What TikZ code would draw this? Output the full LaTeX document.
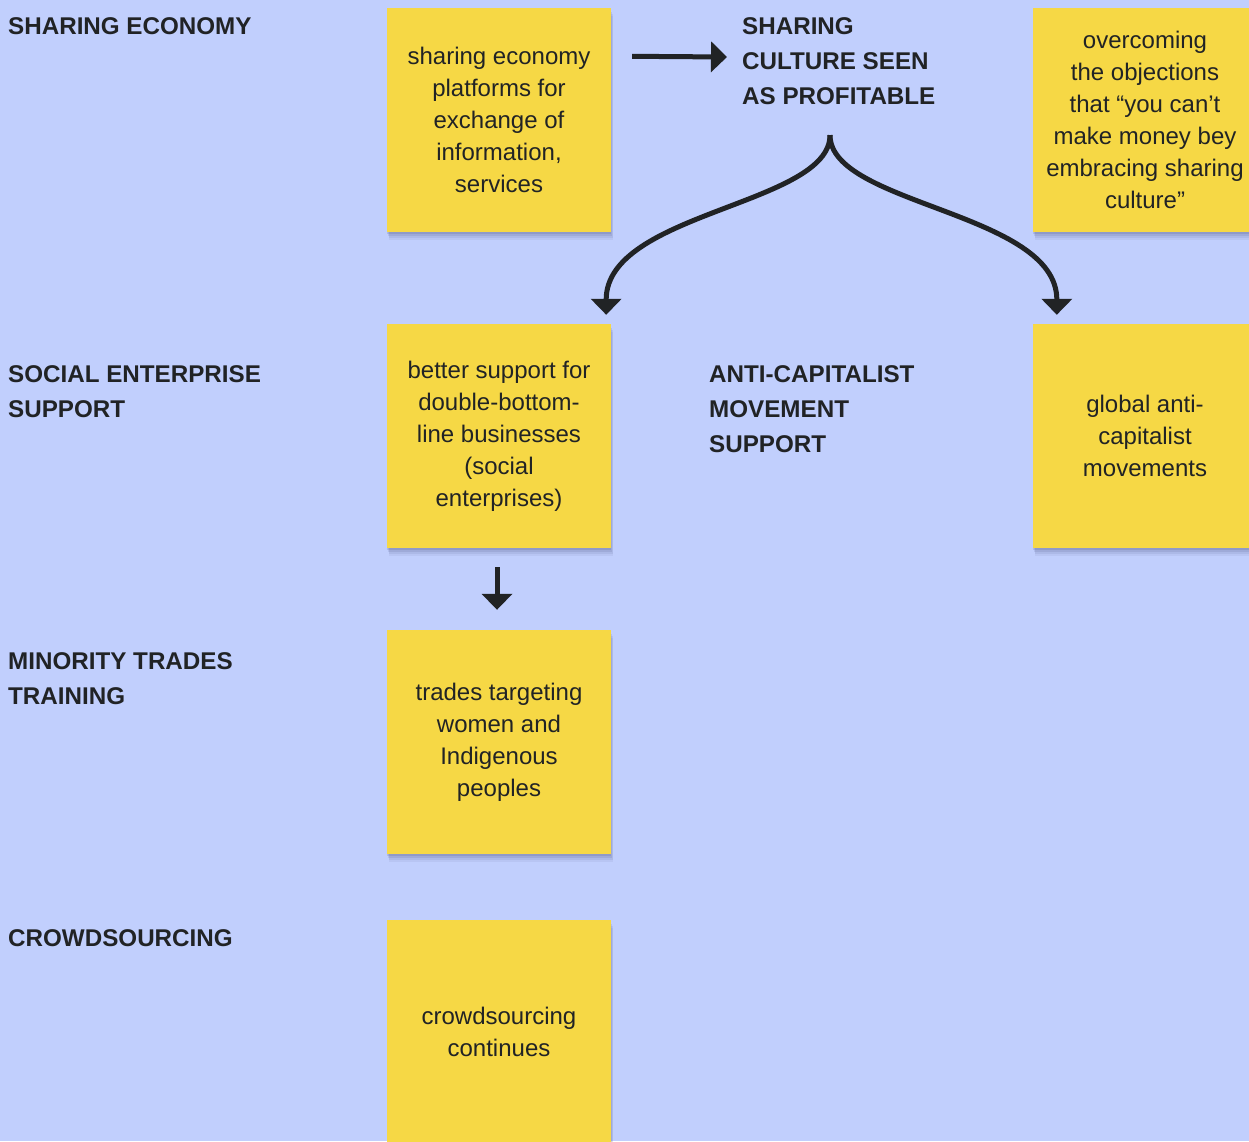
\documentclass[tikz,border=0pt]{standalone}
\usepackage{fontspec}
\setmainfont{Liberation Sans}
\usetikzlibrary{arrows.meta,shadows}
\definecolor{bgblue}{RGB}{193,207,253}
\definecolor{noteyellow}{RGB}{246,216,69}
\definecolor{inkdark}{RGB}{33,35,37}
\definecolor{shadowc}{RGB}{40,45,90}
\tikzset{
  note/.style={rectangle, fill=noteyellow, minimum width=224pt, minimum height=224pt,
    inner sep=0pt, align=center, text=inkdark, font=\fontsize{24}{32}\selectfont,
    drop shadow={shadow xshift=2pt, shadow yshift=-8pt, opacity=0.06, fill=shadowc},
    drop shadow={shadow xshift=1.5pt, shadow yshift=-6pt, opacity=0.08, fill=shadowc},
    drop shadow={shadow xshift=1pt, shadow yshift=-4pt, opacity=0.1, fill=shadowc},
    drop shadow={shadow xshift=0pt, shadow yshift=-2pt, opacity=0.12, fill=shadowc}},
  heading/.style={anchor=north west, inner sep=0pt, align=left, text=inkdark,
    font=\fontsize{24.2}{35}\selectfont\bfseries},
  conn/.style={draw=inkdark, line width=5pt,
    -{Triangle[width=30pt,length=16pt]}}
}
\begin{document}
\begin{tikzpicture}[x=1pt,y=1pt]
\clip (0,0) rectangle (1249,-1141);
\fill[bgblue] (0,0) rectangle (1249,-1141);
\useasboundingbox (0,0) rectangle (1249,-1141);

% headings
\node[heading] (h1) at (8,-17.5) {SHARING ECONOMY};
\node[heading] (h2) at (742,-17.5) {SHARING\\CULTURE SEEN\\AS PROFITABLE};
\node[heading] (h3) at (8,-365.5) {SOCIAL ENTERPRISE\\SUPPORT};
\node[heading] (h4) at (709,-365.5) {ANTI-CAPITALIST\\MOVEMENT\\SUPPORT};
\node[heading] (h5) at (8,-652.5) {MINORITY TRADES\\TRAINING};
\node[heading] (h6) at (8,-929.5) {CROWDSOURCING};

% notes
\node[note] (n1) at (499,-119.5) {sharing economy\\platforms for\\exchange of\\information,\\services};
\node[note] (n2) at (1145,-119.5) {overcoming\\the objections\\that “you can’t\\make money bey\\embracing sharing\\culture”};
\node[note] (n3) at (499,-436) {better support for\\double-bottom-\\line businesses\\(social\\enterprises)};
\node[note] (n4) at (1145,-436) {global anti-\\capitalist\\movements};
\node[note] (n5) at (499,-742) {trades targeting\\women and\\Indigenous\\peoples};
\node[note] (n6) at (499,-1032) {crowdsourcing\\continues};

% connectors
\coordinate (fork) at ([shift={(88pt,-30pt)}]h2.south west);
\draw[conn] ([shift={(21pt,-49pt)}]n1.north east) -- ([shift={(-15pt,-39.5pt)}]h2.north west);
\draw[conn, line cap=butt] (fork) .. controls ([yshift=-70pt]fork) and (606,-212) .. ([shift={(-5pt,9pt)}]n3.north east);
\draw[conn, line cap=butt] (fork) .. controls ([yshift=-70pt]fork) and (1057,-212) .. ([shift={(24pt,9pt)}]n4.north west);
\draw[conn] ([shift={(-2pt,-19pt)}]n3.south) -- ([shift={(-2pt,20pt)}]n5.north);
\end{tikzpicture}
\end{document}
